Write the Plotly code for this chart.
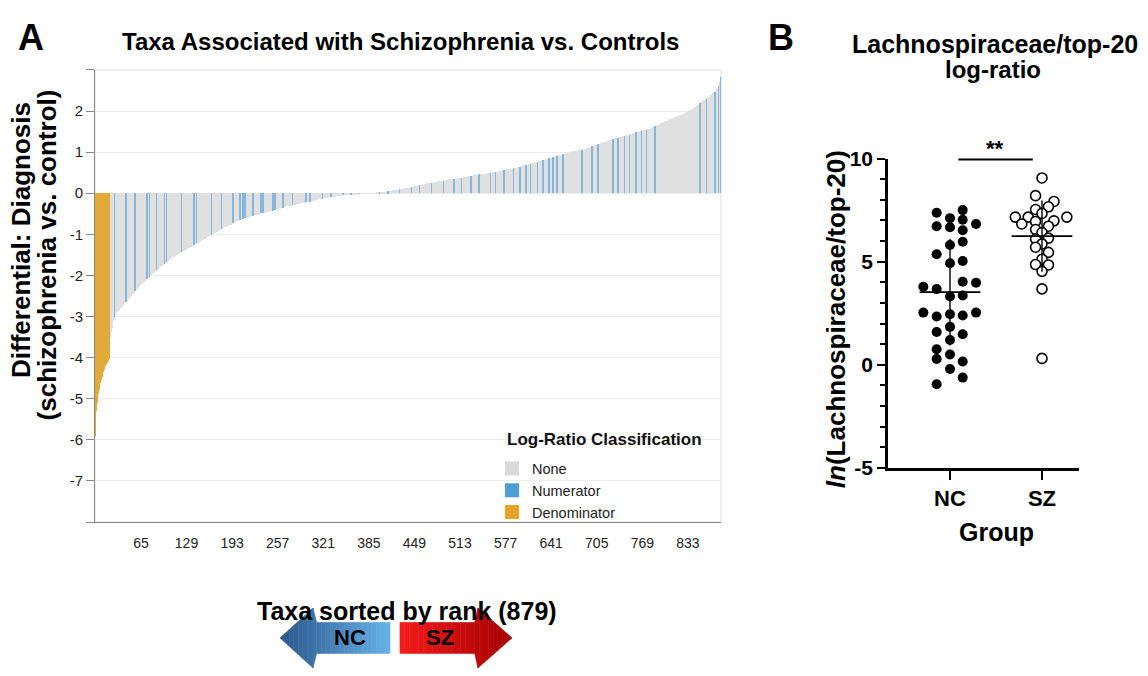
import plotly.graph_objects as go
import numpy as np

# ---------------- data: panel A (sorted differentials, rank 1..879) ----------------
differential = [
    -5.90, -5.30, -5.10, -4.98, -4.88, -4.78, -4.70, -4.62, -4.55, -4.48, -4.42, -4.36, -4.31, -4.26, -4.21, -4.17, -4.13, -4.10, -4.07, -4.04,
    -3.80, -3.52, -3.38, -3.27, -3.18, -3.11, -3.05, -3.00, -2.96, -2.92, -2.90, -2.88, -2.86, -2.84, -2.82, -2.80, -2.78, -2.76, -2.74, -2.72,
    -2.70, -2.68, -2.66, -2.64, -2.62, -2.60, -2.58, -2.56, -2.54, -2.52, -2.50, -2.48, -2.46, -2.44, -2.42, -2.40, -2.38, -2.36, -2.34, -2.32, -2.30, -2.28, -2.26,
    -2.24, -2.23, -2.21, -2.19, -2.18, -2.16, -2.14, -2.13, -2.11, -2.10, -2.08, -2.06, -2.05, -2.03, -2.01, -2.00, -1.98, -1.97, -1.95, -1.93, -1.92, -1.90, -1.89, -1.87,
    -1.86, -1.84, -1.83, -1.81, -1.80, -1.78, -1.77, -1.76, -1.74, -1.73, -1.71, -1.70, -1.69, -1.67, -1.66, -1.64, -1.63, -1.62, -1.60, -1.59, -1.58, -1.56, -1.55,
    -1.54, -1.53, -1.52, -1.51, -1.50, -1.49, -1.48, -1.47, -1.46, -1.45, -1.44, -1.43, -1.42, -1.41, -1.40, -1.39, -1.38, -1.37, -1.36, -1.35, -1.34, -1.33, -1.32,
    -1.31, -1.30, -1.29, -1.28, -1.27, -1.26, -1.25, -1.24, -1.23, -1.22, -1.21, -1.20, -1.19, -1.18, -1.17, -1.16, -1.15, -1.14, -1.13, -1.12, -1.11, -1.10, -1.09, -1.08,
    -1.07, -1.06, -1.05, -1.04, -1.03, -1.02, -1.01, -1.00, -0.99, -0.98, -0.97, -0.96, -0.95, -0.94, -0.93, -0.92, -0.91, -0.90, -0.89, -0.88, -0.87, -0.86, -0.85,
    -0.84, -0.83, -0.82, -0.81, -0.81, -0.80, -0.79, -0.78, -0.77, -0.76, -0.76, -0.75, -0.74, -0.73, -0.72, -0.71, -0.71, -0.70, -0.69, -0.68, -0.67, -0.66, -0.66, -0.65,
    -0.64, -0.64, -0.63, -0.63, -0.62, -0.62, -0.61, -0.61, -0.60, -0.59, -0.59, -0.58, -0.58, -0.57, -0.57, -0.56, -0.56, -0.55, -0.55, -0.54, -0.54, -0.53, -0.53,
    -0.52, -0.52, -0.51, -0.51, -0.50, -0.50, -0.49, -0.49, -0.48, -0.48, -0.47, -0.47, -0.46, -0.46, -0.45, -0.45, -0.44, -0.44, -0.43, -0.43, -0.43, -0.42, -0.42,
    -0.41, -0.41, -0.40, -0.40, -0.39, -0.39, -0.38, -0.38, -0.37, -0.37, -0.36, -0.36, -0.35, -0.35, -0.34, -0.34, -0.33, -0.33, -0.32, -0.32, -0.31, -0.31, -0.30, -0.30,
    -0.30, -0.29, -0.29, -0.29, -0.28, -0.28, -0.28, -0.27, -0.27, -0.26, -0.26, -0.26, -0.25, -0.25, -0.25, -0.24, -0.24, -0.24, -0.23, -0.23, -0.23, -0.22, -0.22,
    -0.22, -0.21, -0.21, -0.20, -0.20, -0.20, -0.19, -0.19, -0.18, -0.18, -0.18, -0.17, -0.17, -0.16, -0.16, -0.16, -0.15, -0.15, -0.14, -0.14, -0.14, -0.13, -0.13,
    -0.13, -0.12, -0.12, -0.12, -0.11, -0.11, -0.11, -0.10, -0.10, -0.10, -0.10, -0.09, -0.09, -0.09, -0.08, -0.08, -0.08, -0.08, -0.07, -0.07, -0.07, -0.06, -0.06, -0.06,
    -0.06, -0.06, -0.05, -0.05, -0.05, -0.05, -0.05, -0.04, -0.04, -0.04, -0.04, -0.04, -0.03, -0.03, -0.03, -0.03, -0.03, -0.03, -0.02, -0.02, -0.02, -0.02, -0.02,
    -0.02, -0.02, -0.02, -0.01, -0.01, -0.01, -0.01, -0.01, -0.01, -0.01, -0.01, -0.01, -0.005, -0.005, -0.005, -0.005, -0.003, -0.003, -0.002, -0.002, -0.001, -0.001, 0.0,
    0.001, 0.002, 0.003, 0.004, 0.006, 0.008, 0.010, 0.012, 0.014, 0.016, 0.018, 0.020, 0.022, 0.024, 0.026, 0.028, 0.030, 0.032, 0.035, 0.038, 0.041, 0.044, 0.047, 0.050,
    0.05, 0.06, 0.06, 0.06, 0.07, 0.07, 0.07, 0.08, 0.08, 0.08, 0.09, 0.09, 0.09, 0.10, 0.10, 0.10, 0.11, 0.11, 0.11, 0.12, 0.12, 0.12, 0.13, 0.13,
    0.13, 0.14, 0.14, 0.14, 0.15, 0.15, 0.15, 0.16, 0.16, 0.16, 0.17, 0.17, 0.17, 0.18, 0.18, 0.18, 0.19, 0.19, 0.19, 0.20, 0.20, 0.20, 0.21,
    0.21, 0.22, 0.22, 0.22, 0.23, 0.23, 0.24, 0.24, 0.24, 0.25, 0.25, 0.25, 0.26, 0.26, 0.27, 0.27, 0.27, 0.28, 0.28, 0.28, 0.29, 0.29, 0.29,
    0.29, 0.30, 0.30, 0.30, 0.31, 0.31, 0.31, 0.32, 0.32, 0.32, 0.33, 0.33, 0.33, 0.34, 0.34, 0.34, 0.34, 0.35, 0.35, 0.35, 0.35, 0.36, 0.36, 0.36, 0.36, 0.37, 0.37, 0.37, 0.37,
    0.37, 0.38, 0.38, 0.38, 0.39, 0.39, 0.39, 0.40, 0.40, 0.40, 0.41, 0.41, 0.41, 0.42, 0.42, 0.42, 0.43, 0.43, 0.43, 0.44, 0.44, 0.44, 0.45, 0.45, 0.45, 0.45, 0.46, 0.46, 0.46, 0.46, 0.47, 0.47, 0.47, 0.47, 0.48, 0.48, 0.48,
    0.48, 0.49, 0.49, 0.49, 0.50, 0.50, 0.50, 0.51, 0.51, 0.51, 0.52, 0.52, 0.52, 0.53, 0.53, 0.53, 0.54, 0.54, 0.54, 0.55, 0.55, 0.55, 0.56, 0.56, 0.56,
    0.57, 0.57, 0.57, 0.58, 0.58, 0.58, 0.59, 0.59, 0.59, 0.60, 0.60, 0.60, 0.61, 0.61, 0.61, 0.62, 0.62, 0.62, 0.63, 0.63, 0.64, 0.64, 0.65, 0.65, 0.66,
    0.66, 0.67, 0.67, 0.68, 0.68, 0.69, 0.69, 0.70, 0.70, 0.71, 0.71, 0.72, 0.72, 0.73, 0.73, 0.74, 0.74, 0.75, 0.75, 0.76, 0.76, 0.77, 0.77, 0.78, 0.78, 0.79, 0.79, 0.80, 0.80, 0.81, 0.81, 0.82, 0.82, 0.83, 0.83, 0.84, 0.84, 0.85, 0.86,
    0.86, 0.87, 0.87, 0.88, 0.88, 0.89, 0.89, 0.90, 0.90, 0.91, 0.91, 0.92, 0.92, 0.93, 0.93, 0.94, 0.94, 0.95, 0.95, 0.96, 0.96, 0.97, 0.97, 0.98, 0.98, 0.99, 0.99, 1.00, 1.00, 1.01, 1.01, 1.02, 1.02, 1.02, 1.03, 1.03, 1.03, 1.04, 1.04, 1.04, 1.05, 1.05, 1.05, 1.06, 1.06, 1.06,
    1.07, 1.07, 1.08, 1.08, 1.09, 1.10, 1.10, 1.11, 1.11, 1.12, 1.13, 1.13, 1.14, 1.14, 1.15, 1.16, 1.16, 1.17, 1.17, 1.18, 1.19, 1.19, 1.20, 1.20, 1.21, 1.22, 1.22, 1.23, 1.23, 1.24, 1.25, 1.25, 1.26, 1.26, 1.27, 1.28, 1.28, 1.29, 1.29, 1.30, 1.31, 1.31, 1.32, 1.32, 1.33, 1.33, 1.34, 1.34,
    1.35, 1.35, 1.36, 1.36, 1.37, 1.37, 1.38, 1.38, 1.39, 1.39, 1.40, 1.40, 1.41, 1.41, 1.42, 1.42, 1.43, 1.43, 1.44, 1.44, 1.45, 1.45, 1.46, 1.46, 1.47, 1.47, 1.48, 1.48, 1.49, 1.49, 1.50, 1.50, 1.51, 1.51, 1.52, 1.52, 1.53, 1.53, 1.54, 1.54, 1.55, 1.55, 1.56, 1.56, 1.57, 1.57, 1.57,
    1.58, 1.59, 1.60, 1.61, 1.62, 1.62, 1.63, 1.64, 1.65, 1.66, 1.67, 1.67, 1.68, 1.69, 1.70, 1.71, 1.71, 1.72, 1.73, 1.74, 1.74, 1.75, 1.76,
    1.77, 1.77, 1.78, 1.79, 1.80, 1.80, 1.81, 1.82, 1.83, 1.83, 1.84, 1.85, 1.86, 1.86, 1.87, 1.88, 1.88, 1.89, 1.90, 1.90, 1.91, 1.91, 1.92,
    1.93, 1.94, 1.95, 1.96, 1.97, 1.98, 1.99, 2.00, 2.01, 2.02, 2.03, 2.04, 2.05, 2.06, 2.07, 2.08, 2.09, 2.10, 2.12, 2.13, 2.14, 2.16, 2.18, 2.20,
    2.21, 2.22, 2.23, 2.24, 2.25, 2.26, 2.28, 2.29, 2.30, 2.31, 2.33, 2.34, 2.35, 2.37, 2.38, 2.40, 2.41, 2.43,
    2.44, 2.46, 2.47, 2.49, 2.51, 2.53, 2.56, 2.60, 2.64, 2.70, 2.82,
]

denominator_ranks = list(range(1, 21))
numerator_ranks = [
    28, 44, 57, 74, 77, 87, 98, 101, 122, 140, 143, 164, 178, 194, 204, 208, 211, 222, 234, 236,
    250, 253, 264, 278, 297, 302, 320, 332, 349, 360, 372,
    400, 412, 428, 445, 456, 473, 490, 505, 515, 528, 540, 556, 563, 575, 588, 597, 606, 612, 622,
    630, 638, 644, 649, 658, 684, 698, 707, 728, 735, 744, 751, 760, 768, 775, 787, 850, 859, 871, 876, 879,
]
class_names = ["None", "Numerator", "Denominator"]
bar_colors = ["#e0e0e0", "#86b7da", "#e2aa38"]
legend_colors = ["#d8d8d8", "#4f9fd5", "#e5a52a"]
x_tick_values = [65, 129, 193, 257, 321, 385, 449, 513, 577, 641, 705, 769, 833]
y_tick_values_a = [-8, -7, -6, -5, -4, -3, -2, -1, 0, 1, 2, 3]

# ---------------- data: panel B ----------------
groups = ["NC", "SZ"]
y_tick_values_b = [-5, 0, 5, 10]
nc_values = [7.37, 7.50, 7.11, 7.03, 6.72, 6.67, 6.83, 6.52, 5.97, 5.81, 5.36, 4.92, 5.03, 3.78, 3.67,
             4.03, 3.98, 3.31, 3.36, 2.53, 2.53, 2.34, 2.45, 2.39, 1.84, 1.59, 1.48, 1.20, 0.75, 0.28,
             0.50, 0.16, -0.20, -0.62, -0.94]
nc_offsets = [-0.145, 0.138, 0, 0.138, -0.145, 0, 0.283, 0.138, 0.138, 0, -0.145, 0, 0.138, -0.29, -0.145,
              0.138, 0.283, 0, 0.138, -0.29, 0.283, -0.145, 0, 0.138, 0, -0.145, 0.138, 0, -0.145, -0.145,
              0, 0.138, 0, 0.138, -0.145]
sz_values = [9.06, 8.20, 7.92, 7.66, 7.53, 7.34, 7.16, 7.16, 7.16, 6.83, 6.95, 6.98, 6.72, 6.56, 6.41,
             6.14, 6.10, 5.86, 5.70, 5.45, 5.12, 4.86, 4.84, 4.53, 3.68, 0.31]
sz_offsets = [0, -0.07, 0.13, 0.07, -0.07, 0, -0.29, -0.15, 0.27, -0.22, -0.07, 0.13, 0.07, -0.07, 0,
              0.07, -0.07, 0, -0.07, 0.07, 0, -0.07, 0.07, 0, 0, 0]

FONT = "Liberation Sans, Arial, Helvetica, sans-serif"
W, H = 1148, 676

def px(x):
    return x / W

def py(y):
    return 1 - y / H

fig = go.Figure()

# ---------------- panel A bars ----------------
ranks = list(range(1, len(differential) + 1))
cls = []
for r in ranks:
    if r in denominator_ranks:
        cls.append(2)
    elif r in numerator_ranks:
        cls.append(1)
    else:
        cls.append(0)
for k in range(3):
    xs = [r for r, c in zip(ranks, cls) if c == k]
    ys = [differential[r - 1] for r, c in zip(ranks, cls) if c == k]
    fig.add_trace(go.Bar(x=xs, y=ys, width=1.0, name=class_names[k],
                         marker=dict(color=bar_colors[k], line=dict(width=0)),
                         xaxis="x", yaxis="y", showlegend=False, hoverinfo="x+y"))
# legend entries (square swatches)
for k in range(3):
    fig.add_trace(go.Scatter(x=[None], y=[None], mode="markers", name=class_names[k],
                             marker=dict(symbol="square", size=14, color=legend_colors[k]),
                             xaxis="x", yaxis="y", showlegend=True))

# ---------------- panel B scatter ----------------
nc_x = [0 + o for o in nc_offsets]
sz_x = [1 + o for o in sz_offsets]
fig.add_trace(go.Scatter(x=nc_x, y=nc_values, mode="markers", xaxis="x2", yaxis="y2",
                         marker=dict(size=10, color="black", line=dict(width=0)),
                         showlegend=False, cliponaxis=False))
fig.add_trace(go.Scatter(x=sz_x, y=sz_values, mode="markers", xaxis="x2", yaxis="y2",
                         marker=dict(size=10, color="white", line=dict(width=1.6, color="black")),
                         showlegend=False, cliponaxis=False))
for gi, vals in enumerate([nc_values, sz_values]):
    m = float(np.mean(vals))
    s = float(np.std(vals, ddof=1))
    fig.add_trace(go.Scatter(x=[gi - 0.33, gi + 0.33], y=[m, m], mode="lines", xaxis="x2", yaxis="y2",
                             line=dict(color="black", width=1.6), showlegend=False, hoverinfo="skip"))
    fig.add_trace(go.Scatter(x=[gi, gi], y=[m - s, m + s], mode="lines", xaxis="x2", yaxis="y2",
                             line=dict(color="black", width=1.4), showlegend=False, hoverinfo="skip"))

# ---------------- layout ----------------
ax_a_left, ax_a_right, ax_a_top, ax_a_bottom = 95, 721, 60, 528
ax_b_left, ax_b_right, ax_b_top, ax_b_bottom = 888, 1079, 151.7, 472

fig.update_layout(
    width=W, height=H, margin=dict(l=0, r=0, t=0, b=0),
    paper_bgcolor="white", plot_bgcolor="rgba(0,0,0,0)",
    font=dict(family=FONT, color="black"),
    barmode="overlay", bargap=0,
    showlegend=True,
    legend=dict(x=px(492), y=py(456), xanchor="left", yanchor="top",
                bgcolor="rgba(0,0,0,0)", borderwidth=0,
                font=dict(size=14.5, family=FONT, color="#222"), traceorder="normal",
                itemsizing="trace", tracegroupgap=0),
    xaxis=dict(domain=[px(ax_a_left), px(ax_a_right)], range=[0.5, len(differential) + 0.5],
               anchor="y", tickmode="array", tickvals=x_tick_values,
               ticktext=[str(v) for v in x_tick_values], ticks="", showgrid=False, zeroline=False,
               showline=True, linecolor="#888", linewidth=1, ticklabelstandoff=8,
               tickfont=dict(size=14, family=FONT, color="#222")),
    yaxis=dict(domain=[py(ax_a_bottom), py(ax_a_top)], range=[-8, 3], anchor="x",
               tickmode="array", tickvals=y_tick_values_a,
               ticktext=["" if v in (-8, 3) else str(v) for v in y_tick_values_a],
               ticklabeloverflow="allow",
               ticks="outside", ticklen=8, tickcolor="#888", showgrid=True, gridcolor="#ececec",
               zeroline=False, showline=True, linecolor="#888", linewidth=1,
               tickfont=dict(size=15, family=FONT, color="#222")),
    xaxis2=dict(domain=[px(ax_b_left), px(ax_b_right)], range=[-0.674, (ax_b_right - 950) / 92],
                anchor="y2", tickmode="array", tickvals=[0, 1], ticktext=groups,
                ticks="outside", ticklen=9, tickwidth=2.2, tickcolor="black",
                showline=True, linecolor="black", linewidth=2.5, showgrid=False, zeroline=False,
                tickfont=dict(size=22, family=FONT, color="black", weight="bold")),
    yaxis2=dict(domain=[py(ax_b_bottom), py(ax_b_top)], range=[-5, 10], anchor="x2",
                tickmode="array", tickvals=y_tick_values_b, ticktext=[str(v) for v in y_tick_values_b],
                ticks="outside", ticklen=8, tickwidth=2.2,
                tickcolor="black", showline=True, linecolor="black", linewidth=2.5,
                showgrid=False, zeroline=False,
                minor=dict(tickmode="linear", dtick=1, ticks="outside", ticklen=5, tickwidth=2,
                           tickcolor="black", showgrid=False),
                tickfont=dict(size=21, family=FONT, color="black", weight="bold")),
)

# plot-area border for panel A (light)
fig.add_shape(type="rect", xref="x domain", yref="y domain", x0=0, x1=1, y0=0, y1=1,
              line=dict(color="#dddddd", width=1), layer="below")

# significance bar
fig.add_shape(type="line", xref="x2", yref="paper", x0=0.09, x1=0.90, y0=py(152.7), y1=py(152.7),
              line=dict(color="black", width=2))

# ---------------- direction arrows (paper-space shapes, sliced for a colour gradient) ----------------
def lerp_color(c0, c1, t):
    a = [int(c0[i:i + 2], 16) for i in (1, 3, 5)]
    b = [int(c1[i:i + 2], 16) for i in (1, 3, 5)]
    return "rgb(%d,%d,%d)" % tuple(round(a[j] + (b[j] - a[j]) * t) for j in range(3))

def arrow_half_height(xp, tip, base, cy, head_half, body_half):
    # head region (between tip and base) grows linearly; body has constant half-height
    lo, hi = min(tip, base), max(tip, base)
    if lo <= xp <= hi:
        return head_half * abs(xp - tip) / abs(base - tip)
    return body_half

def draw_arrow(x_left, x_right, tip, base, cy, head_half, body_half, c0, c1, nslices=24):
    edges = sorted(set([x_left + (x_right - x_left) * i / nslices for i in range(nslices + 1)] + [base]))
    for i in range(len(edges) - 1):
        a, b = edges[i], edges[i + 1]
        if b - a < 0.01:
            continue
        ha = arrow_half_height(a + 1e-6 if a == base and tip > base else a, tip, base, cy, head_half, body_half)
        hb = arrow_half_height(b - 1e-6 if b == base and tip < base else b, tip, base, cy, head_half, body_half)
        t = ((a + b) / 2 - x_left) / (x_right - x_left)
        col = lerp_color(c0, c1, t)
        path = "M %f %f L %f %f L %f %f L %f %f Z" % (
            px(a), py(cy - ha), px(b), py(cy - hb), px(b), py(cy + hb), px(a), py(cy + ha))
        fig.add_shape(type="path", xref="paper", yref="paper", path=path,
                      fillcolor=col, line=dict(width=0.6, color=col), layer="above")

# NC arrow points left, SZ arrow points right
draw_arrow(280, 390, tip=280, base=313, cy=648, head_half=31, body_half=16, c0="#2a568a", c1="#66b2ea")
draw_arrow(400, 512, tip=512, base=478, cy=648, head_half=31, body_half=16, c0="#f51c1c", c1="#a30000")

ann = []
def add_text(text, x, y, size, xanchor="center", yanchor="middle", angle=0, color="black"):
    ann.append(dict(text=text, x=px(x), y=py(y), xref="paper", yref="paper", showarrow=False,
                    xanchor=xanchor, yanchor=yanchor, textangle=angle,
                    font=dict(size=size, family=FONT, color=color)))

add_text("<b>A</b>", 16, 26, 36, xanchor="left")
add_text("<b>Taxa Associated with Schizophrenia vs. Controls</b>", 400, 31, 24)
add_text("<b>Differential: Diagnosis</b>", 21, 236, 26, angle=-90)
add_text("<b>(schizophrenia vs. control)</b>", 47, 252, 26, angle=-90)
add_text("<b>Taxa sorted by rank (879)</b>", 407, 620, 25)
add_text("<b>Log-Ratio Classification</b>", 505, 443, 17, xanchor="left", color="#111")
add_text("<b>NC</b>", 350, 648, 22)
add_text("<b>SZ</b>", 440, 648, 22)
add_text("<b>B</b>", 766, 26, 36, xanchor="left")
add_text("<b>Lachnospiraceae/top-20</b>", 995, 33, 25)
add_text("<b>log-ratio</b>", 993, 60, 24)
add_text("<b><i>ln</i>(Lachnospiraceae/top-20)</b>", 836, 318, 26, angle=-90)
add_text("<b>Group</b>", 996, 538, 25)
add_text("<b>**</b>", 995, 141, 22)
fig.update_layout(annotations=ann)

fig.write_html("out.html")
